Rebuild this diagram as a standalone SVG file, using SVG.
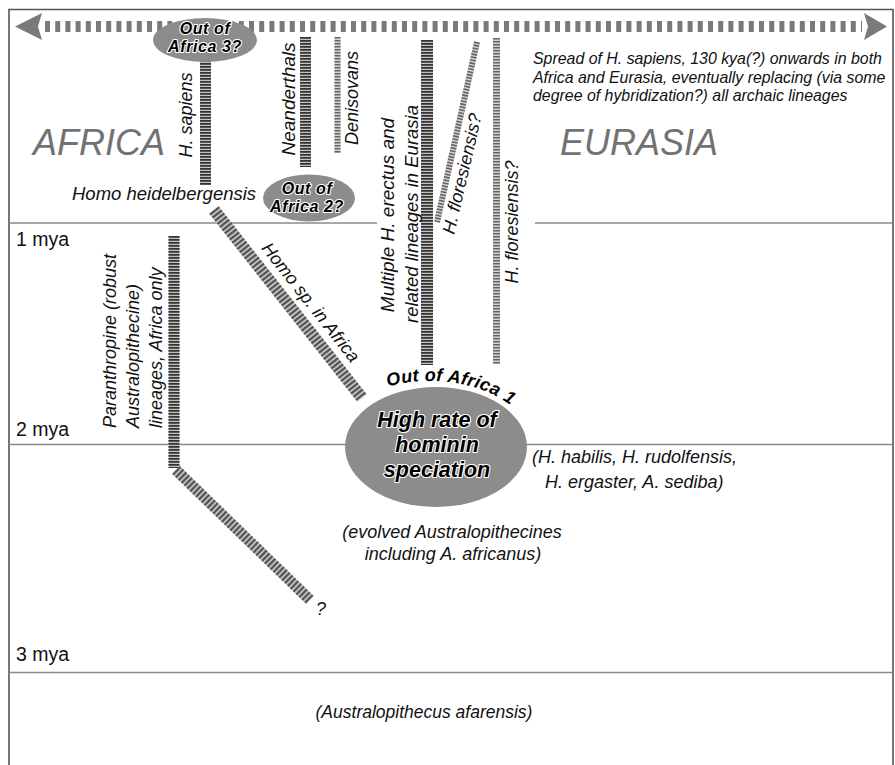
<svg xmlns="http://www.w3.org/2000/svg" width="895" height="765" viewBox="0 0 895 765">
<style>
.t{font-family:"Liberation Sans",Arial,Helvetica,sans-serif;font-style:italic;font-size:18px;fill:#111}
.r{font-style:normal;font-size:19.5px}
.big{font-size:36px;fill:#727272}
.b{font-weight:bold;fill:#000;stroke:#fff;stroke-width:2.2;paint-order:stroke;stroke-linejoin:round}
.sm{font-size:16px;letter-spacing:0.6px}
.lg{font-size:21.5px}
.sp{font-size:15.9px}
.grid{stroke:#8a8a8a;stroke-width:1.6;fill:none}
.frame{stroke:#555;stroke-width:1.6;fill:none}
.ell{fill:#8c8c8c}
.bg{stroke:#c2c2c2;fill:none}
.dk{stroke:#333;fill:none;stroke-dasharray:1.8 1.2}
.bgl{stroke:#d0d0d0;fill:none}
.lt{stroke:#666;fill:none;stroke-dasharray:1.6 1.4}
.dg{stroke:#555;fill:none;stroke-dasharray:2.2 1.8}
.arrow{fill:#7a7a7a}
</style>
<rect x="0" y="0" width="895" height="765" fill="#fff"/>

<g id="frame">
<path class="frame" d="M9,765 V9.5 H893 V765"/>
<line class="grid" x1="9" y1="223" x2="377" y2="223"/>
<line class="grid" x1="535" y1="223" x2="893" y2="223"/>
<line class="grid" x1="9" y1="444.5" x2="893" y2="444.5"/>
<line class="grid" x1="9" y1="672.5" x2="893" y2="672.5"/>
</g>

<g id="time-axis">
<line x1="45" y1="26.5" x2="862" y2="26.5" stroke="#7a7a7a" stroke-width="11" stroke-dasharray="5 5.2"/>
<polygon class="arrow" points="15,26.5 42,13 38,26.5 42,40"/>
<polygon class="arrow" points="887,26.5 864,13 868,26.5 864,40"/>
</g>

<g id="labels-time">
<text class="t r" x="16" y="246">1 mya</text>
<text class="t r" x="16" y="436">2 mya</text>
<text class="t r" x="16" y="661">3 mya</text>
</g>

<g id="regions">
<text class="t big" x="33" y="155">AFRICA</text>
<text class="t big" x="560" y="155">EURASIA</text>
</g>

<g id="connectors">
<line class="bg" x1="205.5" y1="60" x2="205.5" y2="185" stroke-width="11"/>
<line class="dk" x1="205.5" y1="60" x2="205.5" y2="185" stroke-width="11"/>
<line class="bg" x1="305.5" y1="37" x2="305.5" y2="167" stroke-width="11"/>
<line class="dk" x1="305.5" y1="37" x2="305.5" y2="167" stroke-width="11"/>
<line class="bgl" x1="337.5" y1="37" x2="337.5" y2="153" stroke-width="6"/>
<line class="lt" x1="337.5" y1="37" x2="337.5" y2="153" stroke-width="6"/>
<line class="bg" x1="427" y1="40" x2="427" y2="365" stroke-width="12"/>
<line class="dk" x1="427" y1="40" x2="427" y2="365" stroke-width="12"/>
<line class="bgl" x1="477" y1="42" x2="437" y2="222" stroke-width="6"/>
<line class="lt" x1="477" y1="42" x2="437" y2="222" stroke-width="6"/>
<line class="bgl" x1="496.5" y1="38" x2="496.5" y2="364" stroke-width="7"/>
<line class="lt" x1="496.5" y1="38" x2="496.5" y2="364" stroke-width="7"/>
<line class="bg" x1="214" y1="210" x2="362" y2="398" stroke-width="12"/>
<line class="dg" x1="214" y1="210" x2="362" y2="398" stroke-width="12"/>
<line class="bg" x1="174" y1="236" x2="174" y2="468" stroke-width="11"/>
<line class="dk" x1="174" y1="236" x2="174" y2="468" stroke-width="11"/>
<line class="bg" x1="176" y1="470" x2="310" y2="600" stroke-width="11"/>
<line class="dg" x1="176" y1="470" x2="310" y2="600" stroke-width="11"/>
</g>

<g id="out-of-africa-3">
<ellipse class="ell" cx="205" cy="40" rx="52" ry="22"/>
<text class="t b sm" x="205" y="34" text-anchor="middle">Out of</text>
<text class="t b sm" x="205" y="52" text-anchor="middle">Africa 3?</text>
</g>

<g id="out-of-africa-2">
<ellipse class="ell" cx="309" cy="198" rx="46" ry="23.5"/>
<text class="t b sm" x="307" y="194" text-anchor="middle">Out of</text>
<text class="t b sm" x="307" y="212" text-anchor="middle">Africa 2?</text>
</g>

<g id="speciation">
<ellipse class="ell" cx="436" cy="447" rx="91" ry="60"/>
<text class="t b lg" x="437" y="427" text-anchor="middle">High rate of</text>
<text class="t b lg" x="437" y="452" text-anchor="middle">hominin</text>
<text class="t b lg" x="437" y="477" text-anchor="middle">speciation</text>
</g>

<g id="out-of-africa-1">
<path id="oa1" d="M 388,386.7 A 110,75.6 0 0 1 525,418.5" fill="none"/>
<text class="t b" style="letter-spacing:0.3px"><textPath href="#oa1">Out of Africa 1</textPath></text>
</g>

<g id="h-sapiens"><text class="t" transform="translate(192,115) rotate(-90)" text-anchor="middle">H. sapiens</text></g>
<g id="neanderthals"><text class="t" style="font-size:19px" transform="translate(295,99) rotate(-90)" text-anchor="middle">Neanderthals</text></g>
<g id="denisovans"><text class="t" transform="translate(358,98) rotate(-90)" text-anchor="middle">Denisovans</text></g>
<g id="h-erectus">
<text class="t" style="font-size:19px" transform="translate(394,215) rotate(-90)" text-anchor="middle">Multiple H. erectus and</text>
<text class="t" style="font-size:18.5px" transform="translate(418,214) rotate(-90)" text-anchor="middle">related lineages in Eurasia</text>
</g>
<g id="h-floresiensis-1"><text class="t" transform="translate(468,175) rotate(-77)" text-anchor="middle">H. floresiensis?</text></g>
<g id="h-floresiensis-2"><text class="t" transform="translate(518,222) rotate(-90)" text-anchor="middle">H. floresiensis?</text></g>
<g id="homo-sp"><text class="t" transform="translate(306,306) rotate(51.8)" text-anchor="middle">Homo sp. in Africa</text></g>
<g id="heidelbergensis"><text class="t" style="font-size:18.5px" x="72" y="200">Homo heidelbergensis</text></g>
<g id="paranthropine">
<text class="t" transform="translate(116,428) rotate(-90)">Paranthropine (robust</text>
<text class="t" transform="translate(139,428) rotate(-90)">Australopithecine)</text>
<text class="t" transform="translate(162,428) rotate(-90)">lineages, Africa only</text>
</g>
<g id="unknown"><text class="t" x="316" y="615">?</text></g>

<g id="spread">
<text class="t sp" x="533" y="64">Spread of H. sapiens, 130 kya(?) onwards in both</text>
<text class="t sp" x="533" y="82.5">Africa and Eurasia, eventually replacing (via some</text>
<text class="t sp" x="533" y="101">degree of hybridization?) all archaic lineages</text>
</g>

<g id="early-homo">
<text class="t" x="532" y="463">(H. habilis, H. rudolfensis,</text>
<text class="t" x="545" y="488">H. ergaster, A. sediba)</text>
</g>
<g id="australopithecines">
<text class="t" x="452" y="538" text-anchor="middle">(evolved Australopithecines</text>
<text class="t" x="453" y="560" text-anchor="middle">including A. africanus)</text>
</g>
<g id="afarensis"><text class="t" style="font-size:17.5px" x="424" y="718" text-anchor="middle">(Australopithecus afarensis)</text></g>
</svg>
